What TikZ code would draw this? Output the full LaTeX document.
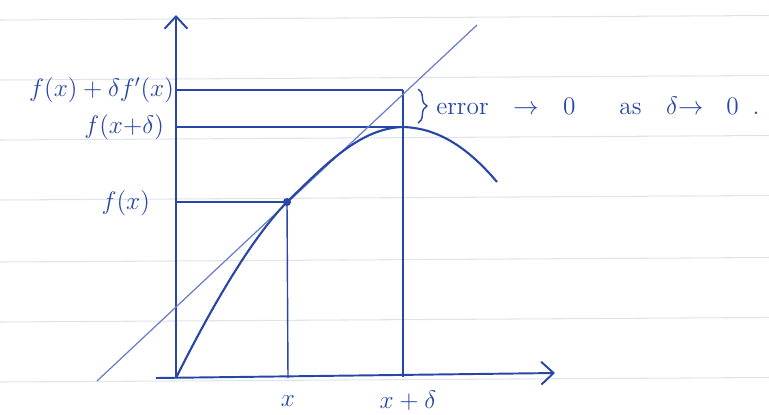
\documentclass[tikz,border=0pt]{standalone}
\usetikzlibrary{positioning,arrows.meta,decorations.pathreplacing}
\usepackage{amsmath}
\definecolor{inkblue}{RGB}{40,70,165}
\definecolor{penlight}{RGB}{105,125,200}
\definecolor{paperrule}{RGB}{222,228,234}

\begin{document}
\begin{tikzpicture}[
  x=0.02cm, y=-0.02cm,
  axis/.style={-{Straight Barb[length=7pt,width=13pt]}, draw=inkblue, line width=1.1pt},
  guide/.style={draw=inkblue, line width=0.8pt},
  tangent/.style={draw=penlight, line width=0.7pt},
  curve/.style={draw=inkblue, line width=1.2pt},
  lbl/.style={text=inkblue, font=\Large, inner sep=1pt},
  paperline/.style={draw=paperrule, line width=0.6pt}
]
\useasboundingbox (0,0) rectangle (769,414);
% ruled paper
\foreach \yy in {20,80,140,200,262,322,382}
  \draw[paperline] (0,\yy) -- (769,\yy-4.5);

% axes
\coordinate (O) at (176,378);
\coordinate (ytop) at (176,15);
\coordinate (xstart) at (156,378);
\coordinate (xend) at (555,373);
\draw[axis] (O) -- (ytop);
\draw[axis] (xstart) -- (xend);

% points on the picture
\coordinate (P) at (287,202);
\coordinate (Q) at (403,127);
\coordinate (T) at (403,90);
\coordinate (xfoot) at (288,378);
\coordinate (dfoot) at (403,377);
\coordinate (yT) at (176,90);
\coordinate (yQ) at (176,127);
\coordinate (yP) at (176,202);

% labels
\node[lbl, anchor=east] (lT) at (176,90) {$f(x)+\delta f'(x)$};
\node[lbl, anchor=east] (lQ) at (166,127) {$f(x{+}\delta)$};
\node[lbl, anchor=east] (lP) at (152,203) {$f(x)$};
\node[lbl] (lx) at (288,401) {$x$};
\node[lbl] (lxd) at (408,401) {$x+\delta$};

% guide lines
\draw[guide] (yT) -- (T);
\draw[guide] (yQ) -- (Q);
\draw[guide] (yP) -- (P);
\draw[guide] (P) -- (xfoot);
\draw[guide] (T) -- (dfoot);

% tangent at x
\coordinate (tA) at (97,381);
\coordinate (tB) at (477,25);
\draw[tangent] (tA) -- (tB);

% the function
\draw[curve] (O) .. controls (210,310) and (250,240) .. (P)
  .. controls (325,165) and (360,128) .. (Q)
  .. controls (440,128) and (470,150) .. (497,182);
\fill[inkblue] (P) circle (2.3pt);

% error note
\draw[guide, decorate, decoration={brace, amplitude=5pt}] (418,89) -- (418,123);
\node[lbl, anchor=west, inner sep=0pt] (err) at (436,106)
  {error\hspace{14pt}$\to$\hspace{14pt}0\hspace{25pt}as\hspace{14pt}$\delta$$\to$\hspace{13pt}0\hspace{8pt}.};
\end{tikzpicture}
\end{document}
